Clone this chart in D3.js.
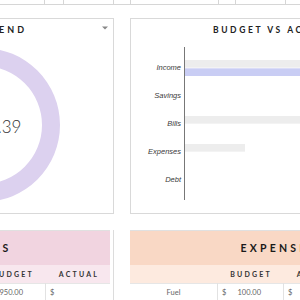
<!DOCTYPE html>
<html>
<head>
<meta charset="utf-8">
<script src="https://cdn.jsdelivr.net/npm/d3@7"></script>
<style>
  html, body { margin: 0; padding: 0; background: #fff; overflow: hidden; }
  svg { display: block; font-family: Lato, "Open Sans", sans-serif; }
</style>
</head>
<body>
<div id="chart"></div>
<script>
// budget vs actual data
const categories = ["Income", "Savings", "Bills", "Expenses", "Debt"];
const budgetValues = [4000, 0, 2000, 1000, 0];
const actualValues = [4000, 0, 0, 0, 0];

// left-to-spend donut
const spendParts = [3356.39];
const spendLabel = "$3,356.39";

// tables
const tableColumns = ["BUDGET", "ACTUAL"];
const billsRows = [["Rent", "1,950.00", ""]];
const expenseRows = [["Fuel", "100.00", ""]];

const W = 300, H = 300;
const svg = d3.select("#chart").append("svg").attr("width", W).attr("height", H);
svg.append("rect").attr("width", W).attr("height", H).attr("fill", "#fff");

// spreadsheet grid peeking at the top
svg.append("line").attr("x1", 0).attr("x2", W).attr("y1", 4.5).attr("y2", 4.5)
  .attr("stroke", "#d6d6d6");
svg.append("g").selectAll("line").data([44, 63, 113, 130, 218, 235, 285]).join("line")
  .attr("x1", d => d + .5).attr("x2", d => d + .5).attr("y1", 0).attr("y2", 4)
  .attr("stroke", "#d6d6d6");

// panels
function panel(x, y, w, h) {
  svg.append("rect").attr("x", x + .5).attr("y", y + .5).attr("width", w).attr("height", h)
    .attr("fill", "#fff").attr("stroke", "#d9d9d9");
}
panel(-10, 18, 123, 195);
panel(130, 18, 300, 195);

// ---- donut
const cx = -17, cy = 125;
svg.append("text").attr("x", 27).attr("y", 33).attr("text-anchor", "end")
  .attr("font-size", 9).attr("font-weight", 700).attr("letter-spacing", 3)
  .attr("fill", "#222").text("LEFT TO SPEND");
svg.append("path").attr("d", "M102,26.5 L108,26.5 L105,29.5 Z").attr("fill", "#888");

const pie = d3.pie().sort(null);
const arc = d3.arc().innerRadius(59).outerRadius(77);
svg.append("g").attr("transform", `translate(${cx},${cy})`)
  .selectAll("path").data(pie(spendParts)).join("path")
  .attr("d", arc).attr("fill", "#dcd1ef");
svg.append("text").attr("x", cx).attr("y", cy + 8).attr("text-anchor", "middle")
  .attr("font-size", 17).attr("font-weight", 300).attr("fill", "#333").text(spendLabel);

// ---- budget vs actual bars
svg.append("text").attr("x", 213).attr("y", 33)
  .attr("font-size", 8.5).attr("font-weight", 700).attr("letter-spacing", 2.6)
  .attr("fill", "#222").text("BUDGET VS ACTUAL");

const x = d3.scaleLinear().domain([0, 4500]).range([185, 455]);
const y = d3.scaleBand().domain(categories).range([54, 194]);
const inner = d3.scaleBand().domain(["budget", "actual"])
  .range([y.bandwidth() / 2 - 8, y.bandwidth() / 2 + 8]).paddingInner(0.08);

const rows = categories.map((c, i) => ({ cat: c, budget: budgetValues[i], actual: actualValues[i] }));
const barColors = { budget: "#ededed", actual: "#c9cdf4" };

svg.append("g").selectAll("g").data(rows).join("g")
  .attr("transform", d => `translate(0,${y(d.cat)})`)
  .selectAll("rect").data(d => ["budget", "actual"].map(k => ({ key: k, value: d[k] })))
  .join("rect")
  .attr("x", x(0)).attr("y", d => inner(d.key))
  .attr("width", d => x(d.value) - x(0)).attr("height", inner.bandwidth())
  .attr("fill", d => barColors[d.key]);

const yAxis = svg.append("g").attr("transform", `translate(${x(0)},0)`)
  .call(d3.axisLeft(y).tickSize(0).tickPadding(4));
yAxis.select(".domain").remove();
yAxis.selectAll("text").attr("font-family", "'Liberation Sans', Arial, sans-serif")
  .attr("font-style", "italic").attr("font-size", 7.5).attr("fill", "#3a3a3a");
svg.append("line").attr("x1", x(0) - .5).attr("x2", x(0) - .5).attr("y1", 47).attr("y2", 200)
  .attr("stroke", "#777");

// ---- tables
function table(x0, colX, colW, fill, subFill, title, titleX, rowsData, firstCol) {
  const g = svg.append("g");
  g.append("rect").attr("x", x0).attr("y", 230).attr("width", 320).attr("height", 35).attr("fill", fill);
  g.append("rect").attr("x", x0).attr("y", 265).attr("width", 320).attr("height", 18).attr("fill", subFill);
  g.append("line").attr("x1", x0).attr("x2", x0 + 320).attr("y1", 230.5).attr("y2", 230.5).attr("stroke", "#e0e0e0");
  g.append("text").attr("x", titleX).attr("y", 252).attr("text-anchor", "middle")
    .attr("font-size", 10.5).attr("font-weight", 700).attr("letter-spacing", 3.2)
    .attr("fill", "#1a1a1a").text(title);
  tableColumns.forEach((c, i) => {
    g.append("text").attr("x", colX[i] + colW / 2 + 1).attr("y", 277).attr("text-anchor", "middle")
      .attr("font-size", 7).attr("font-weight", 700).attr("letter-spacing", 2.2)
      .attr("fill", "#333").text(c);
  });
  rowsData.forEach(r => {
    g.append("line").attr("x1", x0).attr("x2", x0 + 320).attr("y1", 283.5).attr("y2", 283.5).attr("stroke", "#e6e6e6");
    if (firstCol != null)
      g.append("text").attr("x", firstCol).attr("y", 294.5).attr("text-anchor", "middle")
        .attr("font-size", 7.5).attr("fill", "#666").text(r[0]);
    [r[1], r[2]].forEach((v, i) => {
      g.append("line").attr("x1", colX[i] + .5).attr("x2", colX[i] + .5).attr("y1", 283).attr("y2", 300).attr("stroke", "#e2e2e2");
      g.append("text").attr("x", colX[i] + 5).attr("y", 294.5).attr("font-size", 7.5).attr("fill", "#666").text("$");
      g.append("text").attr("x", colX[i] + colW - 22).attr("y", 294.5).attr("text-anchor", "end")
        .attr("font-size", 7.5).attr("fill", "#666").text(v);
    });
  });
}
table(-210, [-21, 45], 66, "#f1d4e0", "#f8e7ee", "BILLS", -10, billsRows, null);
svg.append("line").attr("x1", 113.5).attr("x2", 113.5).attr("y1", 230).attr("y2", 300).attr("stroke", "#dcdcdc");
svg.append("rect").attr("x", 114).attr("y", 225).attr("width", 16).attr("height", 75).attr("fill", "#fff");
table(130, [217, 283], 66, "#f9d8c5", "#fdeadf", "EXPENSES", 279, expenseRows, 173.5);
</script>
</body>
</html>
